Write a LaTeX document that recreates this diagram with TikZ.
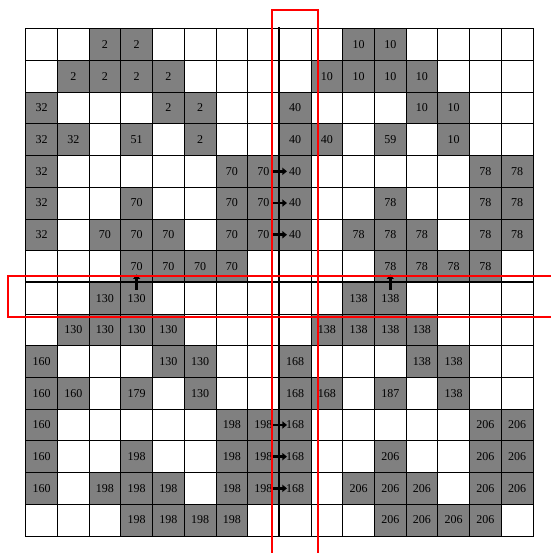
\documentclass[tikz,border=0pt]{standalone}
\usepackage{fontspec}
\setmainfont{Liberation Serif}
\usetikzlibrary{arrows.meta}
\tikzset{
  cell/.style={draw=black, line width=0.7pt, minimum size=31.7pt, inner sep=0pt, anchor=center, font=\fontsize{12}{14}\selectfont},
  graycell/.style={cell, fill=black!50},
  axisline/.style={line width=2.8pt, black},
  marker/.style={draw=red, line width=2pt},
  push/.style={line width=2.8pt, -{Triangle[length=4.5pt,width=7pt]}}
}
\begin{document}
\begin{tikzpicture}[x=1pt,y=-1pt]
\useasboundingbox (0,0) rectangle (551,553);
% white grid
\foreach \r in {0,...,15}{
  \foreach \c in {0,...,15}{
    \node[cell] (c-\r-\c) at ({25.7+(\c+0.5)*31.7},{28.7+(\r+0.5)*31.7}) {};
  }
}
% gray labelled cells (top half pattern repeated for bottom half, values +128)
\foreach \h in {0,1}{
  \foreach \r/\c/\v in {
    0/2/2, 0/3/2, 0/10/10, 0/11/10,
    1/1/2, 1/2/2, 1/3/2, 1/4/2, 1/9/10, 1/10/10, 1/11/10, 1/12/10,
    2/0/32, 2/4/2, 2/5/2, 2/8/40, 2/12/10, 2/13/10,
    3/0/32, 3/1/32, 3/3/51, 3/5/2, 3/8/40, 3/9/40, 3/11/59, 3/13/10,
    4/0/32, 4/6/70, 4/7/70, 4/8/40, 4/14/78, 4/15/78,
    5/0/32, 5/3/70, 5/6/70, 5/7/70, 5/8/40, 5/11/78, 5/14/78, 5/15/78,
    6/0/32, 6/2/70, 6/3/70, 6/4/70, 6/6/70, 6/7/70, 6/8/40, 6/10/78, 6/11/78, 6/12/78, 6/14/78, 6/15/78,
    7/3/70, 7/4/70, 7/5/70, 7/6/70, 7/11/78, 7/12/78, 7/13/78, 7/14/78}{
    \pgfmathtruncatemacro{\rr}{\r+8*\h}
    \pgfmathtruncatemacro{\vv}{\v+128*\h}
    \node[graycell] (g-\rr-\c) at (c-\rr-\c) {\vv};
  }
}
% thick dividing lines
\draw[axisline] ([yshift=1pt]c-0-8.north west) -- (c-15-8.south west);
\draw[axisline] (c-8-0.north west) -- (c-8-15.north east);
% right-pointing arrows into column 8
\foreach \r in {4,5,6,12,13,14}{
  \draw[push] ([xshift=-7.5pt]c-\r-8.west) -- ([xshift=8pt]c-\r-8.west);
}
% upward arrows into row 7
\foreach \c in {3,11}{
  \draw[push] ([yshift=-8pt]c-8-\c.north) -- ([yshift=7.5pt]c-8-\c.north);
}
% red highlight rectangles (open beyond the picture's edge)
\coordinate (hl) at (8,276);
\coordinate (hb) at (8,317);
\coordinate (vl) at (272,10);
\coordinate (vr) at (318,10);
\draw[marker] (hl) -- (551,276);
\draw[marker] (hb) -- (551,317);
\draw[marker] ([yshift=1pt]hl) -- ([yshift=-1pt]hb);
\draw[marker] ([xshift=-1pt]vl) -- ([xshift=1pt]vr);
\draw[marker] (vl) -- (272,553);
\draw[marker] (vr) -- (318,553);
\end{tikzpicture}
\end{document}
